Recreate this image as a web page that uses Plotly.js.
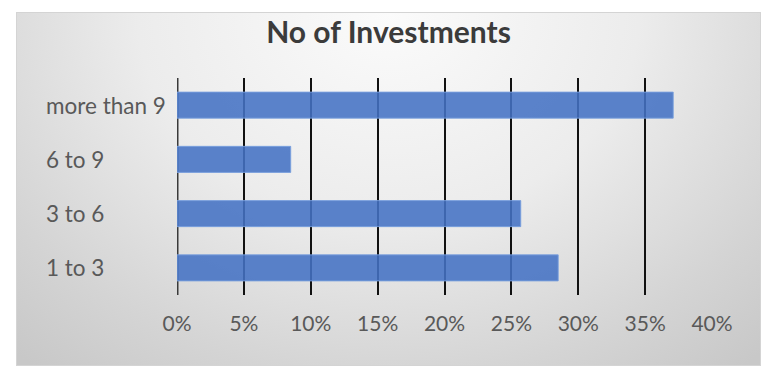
<!DOCTYPE html>
<html>
<head>
<meta charset="utf-8">
<script src="https://cdn.plot.ly/plotly-3.0.1.min.js"></script>
<style>
  html, body { margin: 0; padding: 0; background: #ffffff; }
  #wrap { position: relative; width: 777px; height: 378px; overflow: hidden; }
  #bg {
    position: absolute; left: 16px; top: 12px; width: 743px; height: 352px;
    border: 1px solid #d4d4d4;
    background: radial-gradient(ellipse 75% 130% at 50% 0%, #fbfbfb 0%, #ececec 45%, #d4d4d4 80%, #c8c8c8 100%);
  }
  #chart { position: absolute; left: 0; top: 0; width: 777px; height: 378px; }
</style>
</head>
<body>
<div id="wrap">
  <div id="bg"></div>
  <div id="chart"></div>
</div>
<script>
const categories = ['1 to 3', '3 to 6', '6 to 9', 'more than 9'];
const shares = [0.285, 0.257, 0.085, 0.371];
const xTickValues = [0, 0.05, 0.10, 0.15, 0.20, 0.25, 0.30, 0.35, 0.40];
const chartTitle = 'No of Investments';

const FONT = 'Lato, "Open Sans", sans-serif';

const trace = {
  type: 'bar',
  orientation: 'h',
  y: categories,
  x: shares,
  width: 0.48,
  marker: {
    color: 'rgba(68,114,196,0.88)',
    line: { color: 'rgba(120,158,222,0.9)', width: 1 }
  },
  hoverinfo: 'skip'
};

// left-aligned category labels, placed on the category axis scale
const labelAnnotations = categories.map(c => ({
  text: c,
  xref: 'paper', x: -0.2486, xanchor: 'left',
  yref: 'y', y: c, yanchor: 'middle',
  showarrow: false,
  font: { family: FONT, size: 22.5, color: '#595959' }
}));

const layout = {
  width: 777,
  height: 378,
  margin: { l: 177, r: 65, t: 78, b: 83, pad: 0 },
  paper_bgcolor: 'rgba(0,0,0,0)',
  plot_bgcolor: 'rgba(0,0,0,0)',
  showlegend: false,
  title: {
    text: chartTitle,
    x: 0.5, xanchor: 'center', xref: 'container',
    y: 0.913, yanchor: 'middle', yref: 'container',
    font: { family: FONT, size: 30, color: '#3b3b3b', weight: 700 }
  },
  xaxis: {
    range: [0, 0.4],
    tickvals: xTickValues,
    tickformat: '.0%',
    showgrid: true,
    gridcolor: '#111111',
    gridwidth: 2,
    zeroline: false,
    showline: false,
    ticks: '',
    ticklabelstandoff: 14,
    tickfont: { family: FONT, size: 21, color: '#595959' },
    fixedrange: true
  },
  yaxis: {
    type: 'category',
    categoryorder: 'array',
    categoryarray: categories,
    range: [-0.5, 3.5],
    showgrid: false,
    zeroline: false,
    showline: false,
    ticks: '',
    showticklabels: false,
    fixedrange: true
  },
  annotations: labelAnnotations,
  shapes: [{
    type: 'line', xref: 'x', yref: 'paper',
    x0: 0, x1: 0, y0: 0, y1: 1,
    line: { color: '#3a3a3a', width: 3 },
    layer: 'below'
  }]
};

Plotly.newPlot('chart', [trace], layout, { displayModeBar: false, staticPlot: true });
</script>
</body>
</html>
